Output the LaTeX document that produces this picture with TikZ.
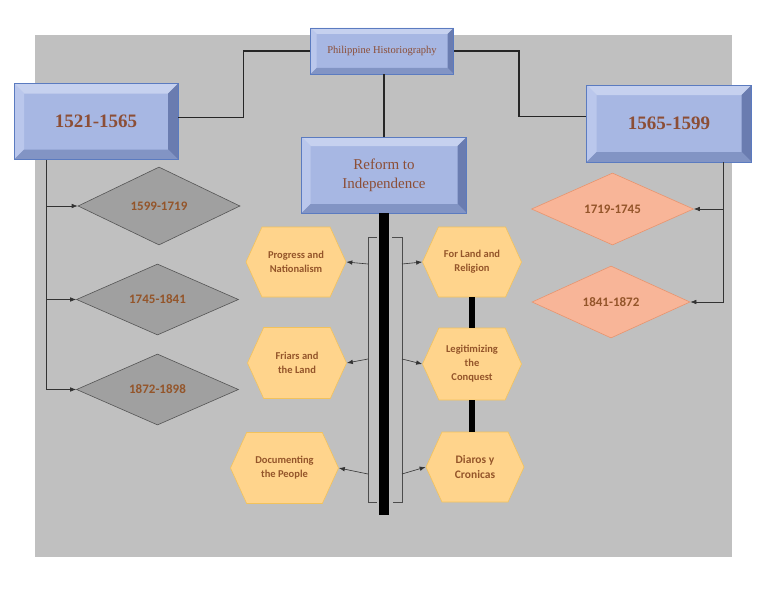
\documentclass[tikz,border=0pt]{standalone}
\usepackage{fontspec}
\setmainfont{Liberation Serif}
\newfontfamily\calibri{Carlito}
\usetikzlibrary{shapes.geometric,shapes.symbols,arrows.meta}
\definecolor{bggray}{HTML}{C0C0C0}
\definecolor{boxface}{HTML}{A7B7E3}
\definecolor{boxtop}{HTML}{C6D1EF}
\definecolor{boxleft}{HTML}{BAC7EC}
\definecolor{boxright}{HTML}{6A7CB0}
\definecolor{boxbottom}{HTML}{8294C4}
\definecolor{boxedge}{HTML}{5B7BC0}
\definecolor{boxtext}{HTML}{8C4E36}
\definecolor{hexfill}{HTML}{FFD48C}
\definecolor{hexedge}{HTML}{F2C25C}
\definecolor{hextext}{HTML}{94552A}
\definecolor{dgray}{HTML}{A0A0A0}
\definecolor{dgrayedge}{HTML}{555555}
\definecolor{salmon}{HTML}{F8B598}
\definecolor{salmonedge}{HTML}{E8946E}
\tikzset{
  bevel/.store in=\bevw, bevel=10pt,
  bevelbox/.style={draw=boxedge, fill=boxface, line width=0.8pt, inner sep=0pt, text=boxtext, align=center,
    path picture={
      \coordinate (bbnw) at (path picture bounding box.north west);
      \coordinate (bbne) at (path picture bounding box.north east);
      \coordinate (bbsw) at (path picture bounding box.south west);
      \coordinate (bbse) at (path picture bounding box.south east);
      \fill[boxtop] (bbnw) -- (bbne) -- ([shift={(-\bevw,-\bevw)}]bbne) -- ([shift={(\bevw,-\bevw)}]bbnw) -- cycle;
      \fill[boxleft] (bbnw) -- (bbsw) -- ([shift={(\bevw,\bevw)}]bbsw) -- ([shift={(\bevw,-\bevw)}]bbnw) -- cycle;
      \fill[boxright] (bbne) -- (bbse) -- ([shift={(-\bevw,\bevw)}]bbse) -- ([shift={(-\bevw,-\bevw)}]bbne) -- cycle;
      \fill[boxbottom] (bbsw) -- (bbse) -- ([shift={(-\bevw,\bevw)}]bbse) -- ([shift={(\bevw,\bevw)}]bbsw) -- cycle;
    }},
  hexa/.style={shape=signal, signal to=east and west, signal pointer angle=131, draw=hexedge, fill=hexfill,
    line width=0.6pt, inner sep=0pt, text=hextext, align=center, font=\calibri\bfseries\fontsize{10.5}{14}\selectfont},
  diam/.style={shape=diamond, aspect=2, inner sep=0pt, line width=0.6pt, text=hextext,
    font=\calibri\bfseries\fontsize{13}{15}\selectfont},
  olddiam/.style={diam, draw=dgrayedge, fill=dgray},
  newdiam/.style={diam, draw=salmonedge, fill=salmon},
  arr/.style={-{Latex[length=6pt,width=4.5pt]}, line width=0.6pt, draw=black!80},
  link/.style={line width=1.2pt, draw=black!85}
}
\begin{document}
\begin{tikzpicture}[x=1pt,y=-1pt]
	\useasboundingbox (0,0) rectangle (768,594);
	% background
	\fill[bggray] (35,35) rectangle (732,557);
	% main boxes
	\node[bevelbox, bevel=6pt, minimum width=143pt, minimum height=46pt, font=\fontsize{10.5}{12}\selectfont] (title) at (382,51) {Philippine Historiography};
	\node[bevelbox, bevel=10pt, minimum width=164pt, minimum height=76pt, font=\fontsize{19}{22}\bfseries] (early) at (96,121.5) {1521-1565};
	\node[bevelbox, bevel=10pt, minimum width=165pt, minimum height=77pt, font=\fontsize{19}{22}\bfseries] (late) at (669,123.5) {1565-1599};
	\node[bevelbox, bevel=9pt, minimum width=165pt, minimum height=76pt, font=\fontsize{15}{19}\selectfont] (reform) at (384,175) {Reform to\\Independence};
	% links from the title
	\draw[link] (title.west) -- ++(-67,0) |- ([yshift=4pt]early.east);
	\draw[link] (title.east) -- ++(65,0) |- ([yshift=7pt]late.west);
	\draw[link] (title.south -| reform.north) -- (reform.north);
	% spine
	\draw[line width=10pt] (reform.south) -- ++(0,302);
	% left diamonds
	\node[olddiam, minimum width=162pt, minimum height=78pt] (d1) at (159,206) {1599-1719};
	\node[olddiam, minimum width=162pt, minimum height=71pt] (d2) at (157.5,299.5) {1745-1841};
	\node[olddiam, minimum width=162pt, minimum height=71pt] (d3) at (157.5,389.5) {1872-1898};
	\coordinate (ltrunk) at ([xshift=33pt]early.south west);
	\draw[arr] (ltrunk) |- (d3.west);
	\draw[arr] (ltrunk |- d1.west) -- (d1.west);
	\draw[arr] (ltrunk |- d2.west) -- (d2.west);
	% right diamonds
	\node[newdiam, minimum width=162pt, minimum height=72pt] (r1) at (612.5,209) {1719-1745};
	\node[newdiam, minimum width=158pt, minimum height=72pt] (r2) at (611,302) {1841-1872};
	\coordinate (rtrunk) at ([xshift=-29pt]late.south east);
	\draw[arr] (rtrunk) |- (r2.east);
	\draw[arr] (rtrunk |- r1.east) -- (r1.east);
	% hexagons
	\node[hexa, minimum width=100pt, minimum height=70pt] (h1) at (296,262) {Progress and\\Nationalism};
	\node[hexa, minimum width=99pt, minimum height=70pt] (h2) at (472,262) {For Land and\\Religion};
	\node[hexa, minimum width=99pt, minimum height=71pt] (h3) at (297,363) {Friars and\\the Land};
	\node[hexa, minimum width=99pt, minimum height=72pt] (h4) at (472,364) {Legitimizing\\the\\Conquest};
	\node[hexa, minimum width=108pt, minimum height=71pt] (h5) at (284.5,468) {Documenting\\the People};
	\node[hexa, minimum width=98pt, minimum height=70pt, font=\calibri\bfseries\fontsize{11.5}{15}\selectfont] (h6) at (475,467) {Diaros y\\Cronicas};
	\draw[line width=6pt] (h2.south) -- (h4.north);
	\draw[line width=6pt] (h4.south) -- (h4.south |- h6.north);
	% bracket round the spine
	\draw[gray!60!black, line width=0.7pt] (377,237) -- (368,237) -- (368,502) -- (377,502);
	\draw[gray!60!black, line width=0.7pt] (392,237) -- (402,237) -- (402,502) -- (393,502);
	\coordinate (tl1) at (368,264);
	\coordinate (tr1) at (402,264);
	\coordinate (tl2) at (368,359);
	\coordinate (tr2) at (402,359);
	\coordinate (tl3) at (368,474);
	\coordinate (tr3) at (402,474);
	\draw[arr] (tl1) -- (h1.east);
	\draw[arr] (tr1) -- (h2.west);
	\draw[arr] (tl2) -- (h3.east);
	\draw[arr] (tr2) -- (h4.west);
	\draw[arr] (tl3) -- (h5.east);
	\draw[arr] (tr3) -- (h6.west);
\end{tikzpicture}
\end{document}
